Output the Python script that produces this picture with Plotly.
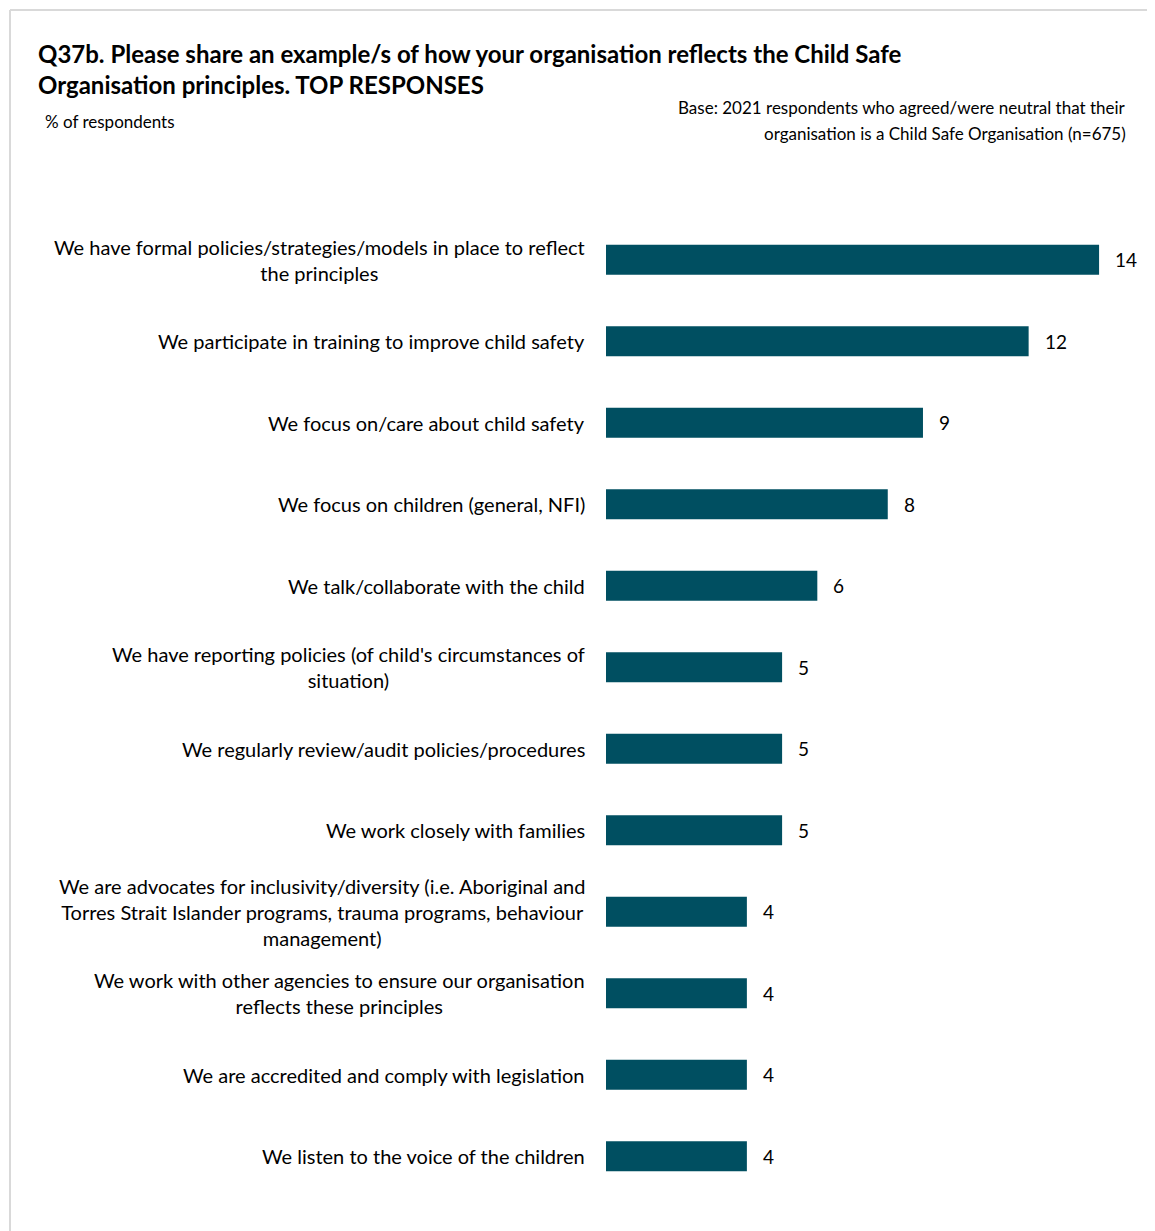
import plotly.graph_objects as go

categories = [
    "We have formal policies/strategies/models in place to reflect<br>the principles",
    "We participate in training to improve child safety",
    "We focus on/care about child safety",
    "We focus on children (general, NFI)",
    "We talk/collaborate with the child",
    "We have reporting policies (of child's circumstances of<br>situation)",
    "We regularly review/audit policies/procedures",
    "We work closely with families",
    "We are advocates for inclusivity/diversity (i.e. Aboriginal and<br>Torres Strait Islander programs, trauma programs, behaviour<br>management)",
    "We work with other agencies to ensure our organisation<br>reflects these principles",
    "We are accredited and comply with legislation",
    "We listen to the voice of the children",
]
values = [14, 12, 9, 8, 6, 5, 5, 5, 4, 4, 4, 4]

title_text = ("<b>Q37b. Please share an example/s of how your organisation reflects the Child Safe<br>"
              "Organisation principles. TOP RESPONSES</b>")
subtitle_text = "% of respondents"
base_lines = ["Base: 2021 respondents who agreed/were neutral that their",
              "organisation is a Child Safe Organisation (n=675)"]

OFF = 8  # page body margin
W, H = 1155 - OFF, 1231 - OFF
L, R, T, B = 606, 1140, 219, 1197  # reference pixel coordinates
FONT = "Lato, 'Noto Sans', sans-serif"
BAR = "#004f61"

def px(xp):
    return (xp - L) / (R - L)

def py(yp):
    return (B - yp) / (B - T)

fig = go.Figure()
ypos = list(range(len(categories)))
fig.add_trace(go.Bar(
    x=values, y=ypos, orientation="h",
    marker=dict(color=BAR, line=dict(width=0)),
    width=0.37, hoverinfo="skip",
))

annotations = []
for i, (c, v) in enumerate(zip(categories, values)):
    annotations.append(dict(
        x=0, y=i, xref="x", yref="y", text=c, showarrow=False,
        xanchor="right", yanchor="middle", align="center", xshift=-19,
        font=dict(family=FONT, size=20, color="#000000"),
    ))
    annotations.append(dict(
        x=v, y=i, xref="x", yref="y", text=str(v), showarrow=False,
        xanchor="left", yanchor="middle", xshift=14,
        font=dict(family=FONT, size=19, color="#000000"),
    ))

annotations.append(dict(
    x=px(36), y=py(37), xref="paper", yref="paper", text=title_text,
    showarrow=False, xanchor="left", yanchor="top", align="left",
    font=dict(family=FONT, size=24, color="#000000"),
))
annotations.append(dict(
    x=px(43), y=py(122), xref="paper", yref="paper", text=subtitle_text,
    showarrow=False, xanchor="left", yanchor="middle", align="left",
    font=dict(family=FONT, size=17, color="#000000"),
))
for line, yp in zip(base_lines, [107, 134]):
    annotations.append(dict(
        x=px(1128), y=py(yp), xref="paper", yref="paper", text=line,
        showarrow=False, xanchor="right", yanchor="middle", align="right",
        font=dict(family=FONT, size=17, color="#000000"),
    ))

shapes = [
    dict(type="line", xref="paper", yref="paper", x0=px(10), x1=px(1170),
         y0=py(10), y1=py(10), line=dict(color="#d9d9d9", width=2)),
    dict(type="line", xref="paper", yref="paper", x0=px(10), x1=px(10),
         y0=py(10), y1=py(1250), line=dict(color="#d9d9d9", width=2)),
]

fig.update_layout(
    width=W, height=H, autosize=False,
    margin=dict(l=L - OFF, r=1155 - R, t=T - OFF, b=1231 - B, pad=0),
    paper_bgcolor="white", plot_bgcolor="white",
    showlegend=False,
    xaxis=dict(range=[0, (R - L) / 35.22], visible=False, fixedrange=True),
    yaxis=dict(range=[len(categories) - 0.5, -0.5], visible=False, fixedrange=True),
    annotations=annotations, shapes=shapes,
    font=dict(family=FONT),
)

fig.write_html("out.html", config={"displayModeBar": False})
